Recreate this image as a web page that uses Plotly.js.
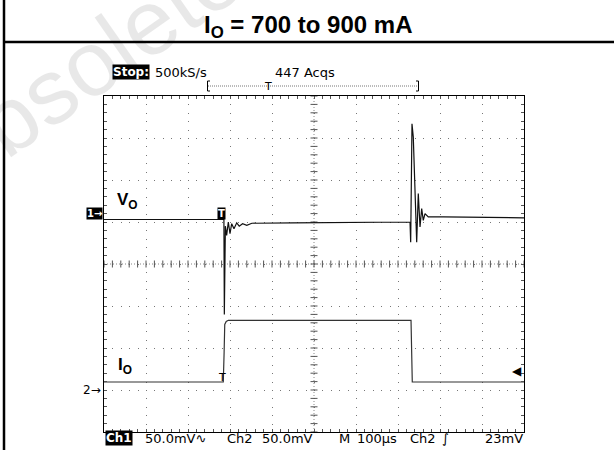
<!DOCTYPE html>
<html>
<head>
<meta charset="utf-8">
<script src="https://cdn.plot.ly/plotly-3.0.1.min.js"></script>
<style>html,body{margin:0;padding:0;background:#fff;}#chart{width:614px;height:450px;}</style>
</head>
<body>
<div id="chart"></div>
<script>
// ---- Data (time in microseconds, amplitude in screen divisions) ----
const voTime = [0, 280, 285.5, 286.5, 289, 292, 296, 300, 304, 309.5, 316, 322, 330, 340, 352, 450, 600, 728.6, 730.2, 733.3, 736.4, 744.5, 748.3, 752.4, 756.4, 760.2, 764.3, 772.1, 808, 900, 1000];
const voDiv  = [5.06, 5.06, 5.06, 2.8, 4.9, 4.68, 5.0, 4.72, 4.96, 4.84, 4.98, 4.9, 4.96, 4.92, 4.97, 4.98, 4.99, 5.0, 4.52, 7.34, 7.02, 4.52, 5.68, 4.88, 5.32, 5.04, 5.2, 5.12, 5.12, 5.11, 5.10];
const ioTime = [0, 284, 286, 287.5, 291, 296, 731, 734, 1000];
const ioDiv  = [1.19, 1.19, 1.9, 2.56, 2.63, 2.66, 2.66, 1.19, 1.19];

const titleText = "I<sub>O</sub> = 700 to 900 mA";
const topLabels = ["Stop:", "500kS/s", "447 Acqs"];
const bottomLabels = ["Ch1", "50.0mV∿", "Ch2", "50.0mV", "M", "100µs", "Ch2", "∫", "23mV"];

// ---- helpers (pixel -> paper) ----
const L = 104, T = 96, W = 420, H = 336;
const px = x => (x - L) / W;
const py = y => (T + H - y) / H;
const scopeFont = {family: "DejaVu Sans", size: 13, color: "#000"};

function ann(text, x, y, o) {
  return Object.assign({text: text, xref: "paper", yref: "paper", x: px(x), y: py(y),
    xanchor: "left", yanchor: "middle", showarrow: false, font: scopeFont}, o || {});
}

// center cross tick marks
const cxT = [], cxY = [], cyX = [], cyY = [];
for (let i = 0; i <= 50; i++) { cxT.push(i * 20); cxY.push(4); }
for (let i = 0; i <= 40; i++) { cyX.push(500); cyY.push(i * 0.2); }

const traces = [
  {x: cxT, y: cxY, mode: "markers", marker: {symbol: "line-ns", size: 5, line: {width: 1, color: "#555"}}, hoverinfo: "skip"},
  {x: cyX, y: cyY, mode: "markers", marker: {symbol: "line-ew", size: 5, line: {width: 1, color: "#555"}}, hoverinfo: "skip"},
  {x: ioTime, y: ioDiv, mode: "lines", line: {color: "#333", width: 1.2}, name: "IO"},
  {x: voTime, y: voDiv, mode: "lines", line: {color: "#111", width: 1.2}, name: "VO"}
];

const annotations = [
  // watermark
  {text: "Obsolete", xref: "paper", yref: "paper", x: px(80), y: py(70), xanchor: "center", yanchor: "middle",
   showarrow: false, textangle: -35, font: {family: "Liberation Sans", size: 92, color: "rgba(0,0,0,0.09)"}},
  // top status
  ann(topLabels[0], 112, 72, {bgcolor: "#000", font: {family: "DejaVu Sans", size: 12, color: "#fff", weight: "bold"}, borderpad: 0}),
  ann(topLabels[1], 153, 72),
  ann(topLabels[2], 273, 72),
  ann("T", 267.5, 86, {xanchor: "center", font: {family: "DejaVu Sans", size: 11, color: "#000"}}),
  // channel markers
  ann("1→", 103, 213, {xanchor: "right", bgcolor: "#000", borderpad: 0, font: {family: "DejaVu Sans", size: 10, color: "#fff", weight: "bold"}}),
  ann("2→", 103, 390, {xanchor: "right", font: {family: "DejaVu Sans", size: 12, color: "#000"}}),
  ann("T", 221.7, 213, {xanchor: "center", bgcolor: "#000", borderpad: 0, font: {family: "DejaVu Sans", size: 10, color: "#fff", weight: "bold"}}),
  ann("T", 221.5, 377, {xanchor: "center", font: {family: "DejaVu Sans", size: 11, color: "#000"}}),
  ann("◀", 524, 370.5, {xanchor: "right", font: {family: "DejaVu Sans", size: 12, color: "#000"}}),
  // trace labels
  ann("V<sub>O</sub>", 115, 201, {font: {family: "Liberation Sans", size: 17, color: "#000", weight: "bold"}}),
  ann("I<sub>O</sub>", 116, 366, {font: {family: "Liberation Sans", size: 17, color: "#000", weight: "bold"}}),
  // bottom status
  ann(bottomLabels[0], 105, 438, {bgcolor: "#000", borderpad: 0, font: {family: "DejaVu Sans", size: 12, color: "#fff", weight: "bold"}}),
  ann(bottomLabels[1], 143, 438),
  ann(bottomLabels[2], 225, 438),
  ann(bottomLabels[3], 260, 438),
  ann(bottomLabels[4], 337, 438),
  ann(bottomLabels[5], 355, 438),
  ann(bottomLabels[6], 408, 438),
  ann(bottomLabels[7], 440, 438),
  ann(bottomLabels[8], 483, 438)
];

const shapes = [
  // page frame lines
  {type: "line", xref: "paper", yref: "paper", x0: px(4), x1: px(4), y0: py(0), y1: py(450), line: {color: "#000", width: 2.5}},
  {type: "line", xref: "paper", yref: "paper", x0: px(4), x1: px(614), y0: py(42), y1: py(42), line: {color: "#000", width: 2.5}},
  // record-length bracket
  {type: "line", xref: "paper", yref: "paper", x0: px(208), x1: px(418), y0: py(86), y1: py(86), line: {color: "#777", width: 1, dash: "1px,1px"}},
  {type: "line", xref: "paper", yref: "paper", x0: px(207.5), x1: px(207.5), y0: py(81), y1: py(91), line: {color: "#000", width: 1}},
  {type: "line", xref: "paper", yref: "paper", x0: px(207.5), x1: px(210), y0: py(81), y1: py(81), line: {color: "#000", width: 1}},
  {type: "line", xref: "paper", yref: "paper", x0: px(207.5), x1: px(210), y0: py(91), y1: py(91), line: {color: "#000", width: 1}},
  {type: "line", xref: "paper", yref: "paper", x0: px(418.5), x1: px(418.5), y0: py(81), y1: py(91), line: {color: "#000", width: 1}},
  {type: "line", xref: "paper", yref: "paper", x0: px(416), x1: px(418.5), y0: py(81), y1: py(81), line: {color: "#000", width: 1}},
  {type: "line", xref: "paper", yref: "paper", x0: px(416), x1: px(418.5), y0: py(91), y1: py(91), line: {color: "#000", width: 1}},
  // dense center lines
  {type: "line", xref: "x", yref: "paper", x0: 500, x1: 500, y0: 0, y1: 1, layer: "below", line: {color: "#888", width: 1, dash: "1px,2px"}},
  {type: "line", xref: "paper", yref: "y", x0: 0, x1: 1, y0: 4, y1: 4, layer: "below", line: {color: "#888", width: 1, dash: "1px,2px"}}
];

const layout = {
  width: 614, height: 450,
  margin: {l: L, r: 614 - L - W, t: T, b: 450 - T - H, pad: 0},
  paper_bgcolor: "#fff", plot_bgcolor: "#fff",
  showlegend: false, hovermode: false,
  title: {text: titleText, x: 0.502, xanchor: "center", y: 1 - 25 / 450, yanchor: "middle",
          font: {family: "Liberation Sans", size: 24, color: "#000", weight: "bold"}},
  xaxis: {range: [0, 1000], dtick: 100, tick0: 0, showticklabels: false, zeroline: false,
          showline: true, linecolor: "#000", linewidth: 1, mirror: "allticks",
          ticks: "inside", ticklen: 3, tickcolor: "#555",
          showgrid: true, gridcolor: "#777", gridwidth: 1, griddash: "1px,7.4px",
          minor: {dtick: 20, ticks: "inside", ticklen: 3, tickcolor: "#555", showgrid: false}},
  yaxis: {range: [0, 8], dtick: 1, tick0: 0, showticklabels: false, zeroline: false,
          showline: true, linecolor: "#000", linewidth: 1, mirror: "allticks",
          ticks: "inside", ticklen: 3, tickcolor: "#555",
          showgrid: true, gridcolor: "#777", gridwidth: 1, griddash: "1px,7.4px",
          minor: {dtick: 0.2, ticks: "inside", ticklen: 3, tickcolor: "#555", showgrid: false}},
  annotations: annotations,
  shapes: shapes
};

Plotly.newPlot("chart", traces, layout, {staticPlot: true, displayModeBar: false});
</script>
</body>
</html>
